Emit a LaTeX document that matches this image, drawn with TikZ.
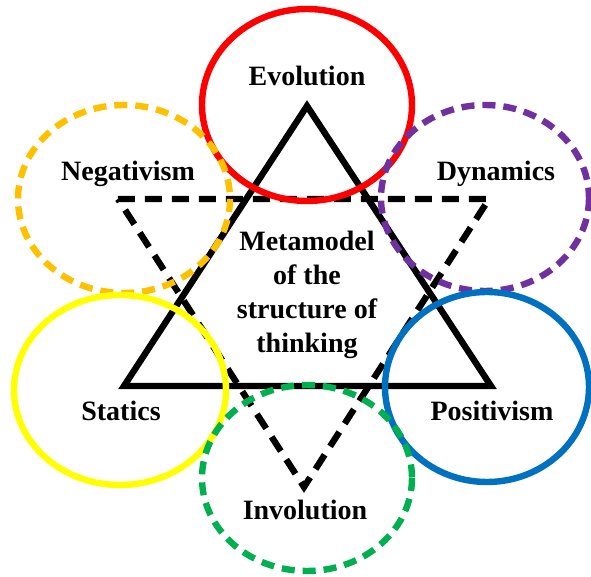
\documentclass[tikz,border=0pt]{standalone}
\usepackage{fontspec}
\setmainfont{Liberation Serif}
\usepackage{tikz}
\usetikzlibrary{calc}
\definecolor{evored}{RGB}{255,0,0}
\definecolor{negorange}{RGB}{255,192,0}
\definecolor{dynpurple}{RGB}{112,48,160}
\definecolor{posblue}{RGB}{0,112,192}
\definecolor{statyellow}{RGB}{255,255,0}
\definecolor{invgreen}{RGB}{0,176,80}

\begin{document}
\begin{tikzpicture}[x=0.5pt, y=-0.5pt,
    lbl/.style={font=\fontsize{14}{17}\selectfont\bfseries, inner sep=0pt},
    ring/.style={line width=3.2pt},
    dashring/.style={ring, dash pattern=on 6.5pt off 4pt}]
  \useasboundingbox (0,0) rectangle (591,577);
  % the two triangles
  \draw[line width=3.2pt] (307,106) -- (124,386) -- (491,386) -- cycle;
  \draw[line width=3.2pt, dash pattern=on 8.5pt off 5pt] (118,199) -- (489,199) -- (304,487) -- cycle;
  % the six rings
  \draw[ring, evored] (307,105) ellipse [x radius=105, y radius=96];
  \draw[dashring, negorange] (124,199) ellipse [x radius=106, y radius=94];
  \draw[dashring, dynpurple] (485,198) ellipse [x radius=104, y radius=93];
  \draw[ring, statyellow] (120,390) ellipse [x radius=106, y radius=95];
  \draw[ring, posblue] (487,387) ellipse [x radius=102, y radius=95];
  \draw[dashring, invgreen] (307,478) ellipse [x radius=105, y radius=93];
  % labels
  \node[lbl] (evo) at (307,76) {Evolution};
  \node[lbl] (neg) at (128,174) {Negativism};
  \node[lbl] (dyn) at (496,174) {Dynamics};
  \node[lbl] (sta) at (121,411) {Statics};
  \node[lbl] (pos) at (492,411) {Positivism};
  \node[lbl] (inv) at (305,510) {Involution};
  \node[lbl, align=center] (meta) at (307,295) {Metamodel\\of the\\structure of\\thinking};
\end{tikzpicture}
\end{document}
